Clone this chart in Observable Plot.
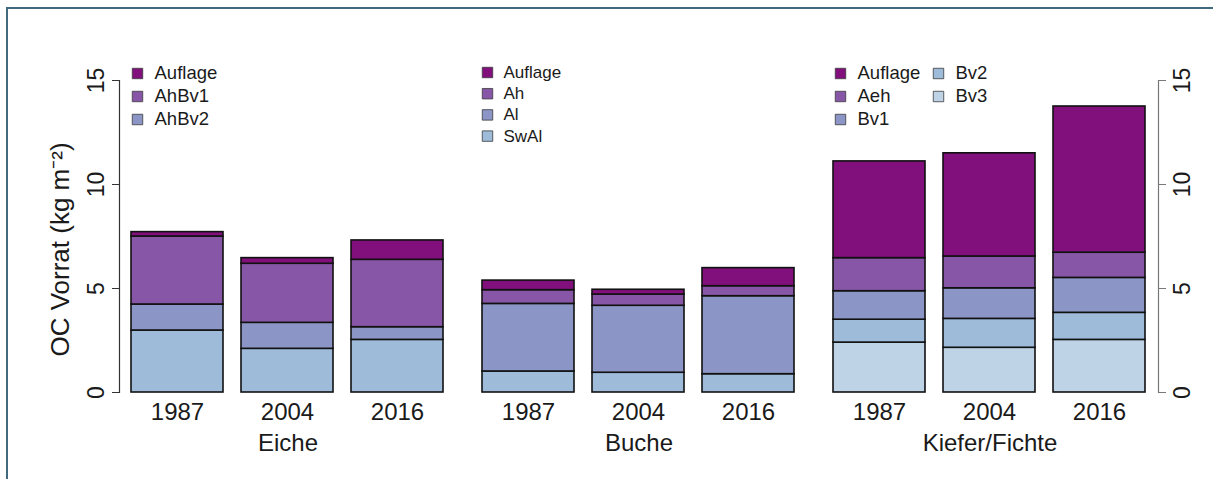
<!DOCTYPE html>
<html>
<head>
<meta charset="utf-8">
<script src="https://cdn.jsdelivr.net/npm/d3@7"></script>
<script src="https://cdn.jsdelivr.net/npm/@observablehq/plot@0.6"></script>
<style>
  html, body { margin: 0; padding: 0; background: #fff; }
  #wrap { position: relative; width: 1213px; height: 479px; overflow: hidden; }
  #border { position: absolute; left: 6px; top: 7px; right: -10px; bottom: -10px;
            border-left: 2px solid #41697f; border-top: 2px solid #41697f; pointer-events: none; }
  svg { display: block; }
</style>
</head>
<body>
<div id="wrap"><div id="border"></div></div>
<script>
// ---- data ----
const years = ["1987", "2004", "2016"];
const groups = ["Eiche", "Buche", "Kiefer/Fichte"];
const palette = ["#810f7c", "#8856a7", "#8c96c6", "#9ebcda", "#bfd3e6"];

// Eiche (layer thickness, kg m^-2), top -> bottom
const eicheLayers = ["Auflage", "AhBv1", "AhBv2", "Unterboden"];
const eicheAuflage = [0.21, 0.27, 0.93];
const eicheAhBv1 = [3.27, 2.84, 3.24];
const eicheAhBv2 = [1.25, 1.25, 0.61];
const eicheUnterboden = [2.98, 2.10, 2.53];
const eicheLegend = ["Auflage", "AhBv1", "AhBv2"];

// Buche
const bucheLayers = ["Auflage", "Ah", "Al", "SwAl"];
const bucheAuflage = [0.46, 0.23, 0.87];
const bucheAh = [0.66, 0.54, 0.48];
const bucheAl = [3.25, 3.22, 3.75];
const bucheSwAl = [1.01, 0.95, 0.88];
const bucheLegend = ["Auflage", "Ah", "Al", "SwAl"];

// Kiefer/Fichte
const kieferLayers = ["Auflage", "Aeh", "Bv1", "Bv2", "Bv3"];
const kieferAuflage = [4.65, 4.96, 7.03];
const kieferAeh = [1.59, 1.53, 1.21];
const kieferBv1 = [1.37, 1.47, 1.68];
const kieferBv2 = [1.10, 1.39, 1.30];
const kieferBv3 = [2.40, 2.15, 2.53];
const kieferLegend = ["Auflage", "Aeh", "Bv1", "Bv2", "Bv3"];

const yTicks = [0, 5, 10, 15];
const yLabel = "OC Vorrat (kg m\u207B\u00B2)";

// ---- table ----
const groupSeries = [
  {group: "Eiche", layers: eicheLayers, values: [eicheAuflage, eicheAhBv1, eicheAhBv2, eicheUnterboden], legend: eicheLegend},
  {group: "Buche", layers: bucheLayers, values: [bucheAuflage, bucheAh, bucheAl, bucheSwAl], legend: bucheLegend},
  {group: "Kiefer/Fichte", layers: kieferLayers, values: [kieferAuflage, kieferAeh, kieferBv1, kieferBv2, kieferBv3], legend: kieferLegend}
];

const rows = [];
for (const g of groupSeries) {
  years.forEach((yr, j) => {
    // bottom -> top stacking order
    for (let k = g.layers.length - 1; k >= 0; --k) {
      rows.push({group: g.group, year: yr, layer: g.layers[k], value: g.values[k][j], color: palette[k]});
    }
  });
}

// ---- legend layout (style only) ----
const legendLayout = {
  "Eiche": {dxSq: 18, dxTx: 35, dy0: -7, step: 23, colStep: 0, perCol: 3, fontSize: 18.5},
  "Buche": {dxSq: 17, dxTx: 33, dy0: -8, step: 21.2, colStep: 0, perCol: 4, fontSize: 17},
  "Kiefer/Fichte": {dxSq: 19, dxTx: 36, dy0: -7, step: 23, colStep: 98, perCol: 3, fontSize: 18.5}
};
const legendMarks = [];
for (const g of groupSeries) {
  const L = legendLayout[g.group];
  g.legend.forEach((name, i) => {
    const col = Math.floor(i / L.perCol), row = i % L.perCol;
    const color = palette[g.layers.indexOf(name)];
    const dy = L.dy0 + row * L.step;
    legendMarks.push(Plot.dot([name], {fx: () => g.group, frameAnchor: "top-left", symbol: "square", r: 5.9,
      fill: color, stroke: "#3a3a3a", strokeWidth: 0.8, dx: L.dxSq + col * L.colStep, dy}));
    legendMarks.push(Plot.text([name], {fx: () => g.group, frameAnchor: "top-left", text: d => d,
      textAnchor: "start", lineAnchor: "middle", fontSize: L.fontSize, fill: "#1a1a1a",
      dx: L.dxTx + col * L.colStep, dy}));
  });
}

const chart = Plot.plot({
  width: 1213,
  height: 479,
  marginLeft: 119,
  marginRight: 55,
  marginTop: 80,
  marginBottom: 87,
  style: {fontFamily: "'Liberation Sans', Arial, sans-serif", background: "transparent"},
  fx: {domain: groups, paddingInner: 0.04, paddingOuter: 0, label: null},
  x: {domain: years, paddingInner: 0.1636, paddingOuter: 0.1136, label: null},
  y: {domain: [0, 15], label: null},
  color: {type: "identity"},
  marks: [
    Plot.barY(rows, {fx: "group", x: "year", y: "value", fill: "color", stroke: "#111", strokeWidth: 1.6, inset: 0}),
    Plot.frame({anchor: "left", fx: "Eiche", stroke: "#333", strokeWidth: 1.2}),
    Plot.frame({anchor: "right", fx: "Kiefer/Fichte", stroke: "#777", strokeWidth: 1.2}),
    Plot.axisY({anchor: "left", ticks: yTicks, tickSize: 7, tickPadding: 9, tickRotate: -90,
      fontSize: 23, stroke: "#333", fill: "#1a1a1a", label: null}),
    Plot.axisY({anchor: "right", ticks: yTicks, tickSize: 7, tickPadding: 8, tickRotate: -90, lineAnchor: "top",
      fontSize: 23, stroke: "#777", fill: "#1a1a1a", label: null}),
    Plot.axisX({anchor: "bottom", tickSize: 0, tickPadding: 10, fontSize: 24, fill: "#1a1a1a", label: null}),
    Plot.axisFx({anchor: "bottom", tickSize: 0, tickPadding: 41, fontSize: 24, fill: "#1a1a1a", label: null}),
    Plot.text([yLabel], {fx: () => "Eiche", frameAnchor: "left", text: d => d, rotate: -90, textAnchor: "middle",
      lineAnchor: "middle", fontSize: 26, fill: "#1a1a1a", dx: -59, dy: 13}),
    ...legendMarks
  ]
});
document.getElementById("wrap").prepend(chart);
</script>
</body>
</html>
